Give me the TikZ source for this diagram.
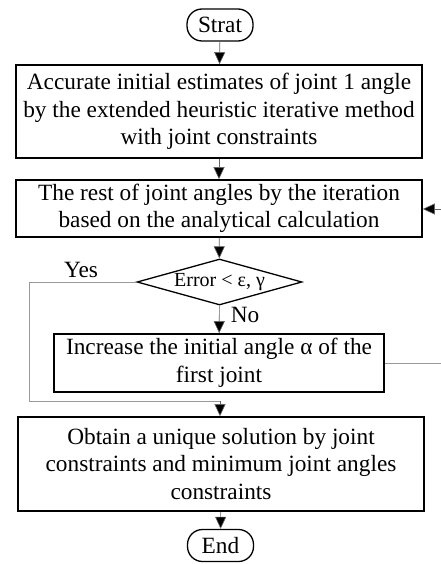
\documentclass[tikz,border=0pt]{standalone}
\usepackage{fontspec}
\setmainfont{Liberation Serif}
\usetikzlibrary{shapes.geometric,arrows.meta}
\begin{document}
\begin{tikzpicture}[x=1pt,y=-1pt,
  font=\fontsize{23.3}{27.5}\selectfont,
  procbox/.style={draw=black,line width=1.6pt,align=center,inner sep=0pt},
  termbox/.style={draw=black,line width=1.3pt,rounded corners=15pt,inner sep=0pt,minimum width=66pt,minimum height=32pt},
  decbox/.style={draw=black,line width=1.3pt,diamond,aspect=3.6,inner sep=0pt,minimum width=165pt,minimum height=46pt,font=\fontsize{20}{22}\selectfont},
  flow/.style={draw=gray!80!black,line width=0.6pt,-{Triangle[width=11pt,length=12pt,fill=black]}},
  plain/.style={draw=gray!80,line width=0.8pt},
  lbl/.style={inner sep=0pt}]
\useasboundingbox (0,0) rectangle (440,564);
\node[termbox] (strat) at (220,25) {Strat};
\node[procbox,minimum width=406pt,minimum height=93pt] (b1) at (219,111.5)
  {Accurate initial estimates of joint 1 angle\\by the extended heuristic iterative method\\with joint constraints};
\node[procbox,minimum width=406pt,minimum height=57pt] (b2) at (219,208.5)
  {The rest of joint angles by the iteration\\based on the analytical calculation};
\node[decbox] (dia) at (219.5,282) {\raisebox{-1pt}{Error < ε, γ}};
\node[procbox,minimum width=330pt,minimum height=58pt] (b3) at (219,363)
  {Increase the initial angle α of the\\first joint};
\node[procbox,minimum width=406pt,minimum height=94pt] (b4) at (221,464)
  {Obtain a unique solution by joint\\constraints and minimum joint angles\\constraints};
\node[termbox] (end) at (220.5,545.5) {End};
\node[lbl] (yes) at (81,270) {Yes};
\node[lbl] (no) at (245,315) {No};
\coordinate (y1) at (29,282);
\coordinate (y2) at (29,401);
\coordinate (y3) at (220,401);
\coordinate (r1) at (444,363);
\coordinate (r2) at (444,209);
\draw[flow] (strat) -- (b1);
\draw[flow] (b1) -- (b2);
\draw[flow] (b2) -- (dia);
\draw[flow] (dia) -- (b3);
\draw[plain] (dia.west) -- (y1) -- (y2) -- (y3);
\draw[flow] (y3) -- (b4.north -| y3);
\draw[flow] (b4) -- (end);
\draw[plain] (b3.east |- r1) -- (r1) -- (r2);
\draw[flow] (r2) -- (b2.east |- r2);
\end{tikzpicture}
\end{document}
